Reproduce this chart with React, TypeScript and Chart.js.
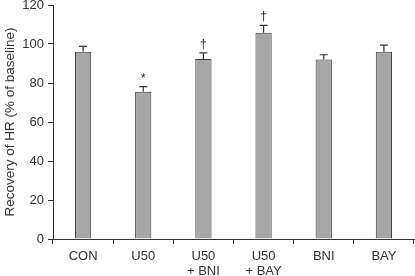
import React, { useEffect, useRef } from "react";
import { Chart, registerables } from "chart.js";

Chart.register(...registerables);

const categories: (string | string[])[] = ["CON", "U50", ["U50", "+ BNI"], ["U50", "+ BAY"], "BNI", "BAY"];
const means = [96, 75.5, 92.3, 105.8, 92, 96];
const errors = [2.8, 2.6, 3.2, 3.8, 2.5, 3.4];
const marks = ["", "*", "†", "†", "", ""];
const yTicks = [0, 20, 40, 60, 80, 100, 120];

const FONT = "'Liberation Sans', Arial, sans-serif";

export default function App() {
  const ref = useRef<HTMLCanvasElement | null>(null);
  useEffect(() => {
    if (!ref.current) return;
    const errPlugin = {
      id: "errbars",
      afterDatasetsDraw(chart: any) {
        const ctx = chart.ctx;
        const meta = chart.getDatasetMeta(0);
        const ys = chart.scales.y;
        ctx.save();
        meta.data.forEach((bar: any, i: number) => {
          const x = bar.x;
          const yb = ys.getPixelForValue(means[i]);
          const yt = ys.getPixelForValue(means[i] + errors[i]);
          ctx.strokeStyle = "#333";
          ctx.lineWidth = 1.2;
          ctx.beginPath();
          ctx.moveTo(x, yb);
          ctx.lineTo(x, yt);
          ctx.moveTo(x - 4, yt);
          ctx.lineTo(x + 4, yt);
          ctx.stroke();
          if (marks[i]) {
            ctx.fillStyle = "#333";
            ctx.font = `13px ${FONT}`;
            ctx.textAlign = "center";
            ctx.textBaseline = "bottom";
            ctx.fillText(marks[i], x, yt - 2);
          }
        });
        ctx.restore();
      },
    };
    const chart = new Chart(ref.current, {
      type: "bar",
      data: {
        labels: categories,
        datasets: [
          {
            data: means,
            backgroundColor: "#a6a6a6",
            borderColor: "#3a3a3a",
            borderWidth: 1,
            borderSkipped: "bottom",
            categoryPercentage: 1,
            barPercentage: 0.27,
          },
        ],
      },
      options: {
        animation: false,
        responsive: false,
        maintainAspectRatio: false,
        layout: { padding: { top: 5, right: 1, left: 0, bottom: 0 } },
        plugins: { legend: { display: false }, tooltip: { enabled: false } },
        scales: {
          x: {
            grid: { display: true, drawOnChartArea: false, drawTicks: true, tickLength: 5, color: "#333", offset: true },
            border: { display: true, color: "#333", width: 1 },
            ticks: { color: "#333", font: { family: FONT, size: 13, lineHeight: 1.15 }, padding: 5, maxRotation: 0, autoSkip: false },
            afterFit(scale: any) {
              scale.height = 37;
              scale.paddingLeft = 0;
              scale.paddingRight = 0;
            },
          },
          y: {
            min: 0,
            max: 120,
            afterBuildTicks(scale: any) {
              scale.ticks = yTicks.map((v) => ({ value: v }));
            },
            grid: { display: true, drawOnChartArea: false, drawTicks: true, tickLength: 5, color: "#333" },
            border: { display: true, color: "#333", width: 1 },
            ticks: { color: "#333", font: { family: FONT, size: 13 }, padding: 4 },
            title: {
              display: true,
              text: "Recovery of HR (% of baseline)",
              color: "#333",
              font: { family: FONT, size: 13.5 },
              padding: { top: 2, bottom: 2 },
            },
            afterFit(scale: any) {
              scale.width = 53;
              scale.paddingTop = 0;
              scale.paddingBottom = 0;
            },
          },
        },
      },
      plugins: [errPlugin],
    });
    return () => chart.destroy();
  }, []);
  return (
    <div style={{ position: "fixed", left: 0, top: 0, width: 415, height: 276, background: "#fff" }}>
      <canvas ref={ref} width={415} height={276} style={{ width: 415, height: 276 }} />
    </div>
  );
}
